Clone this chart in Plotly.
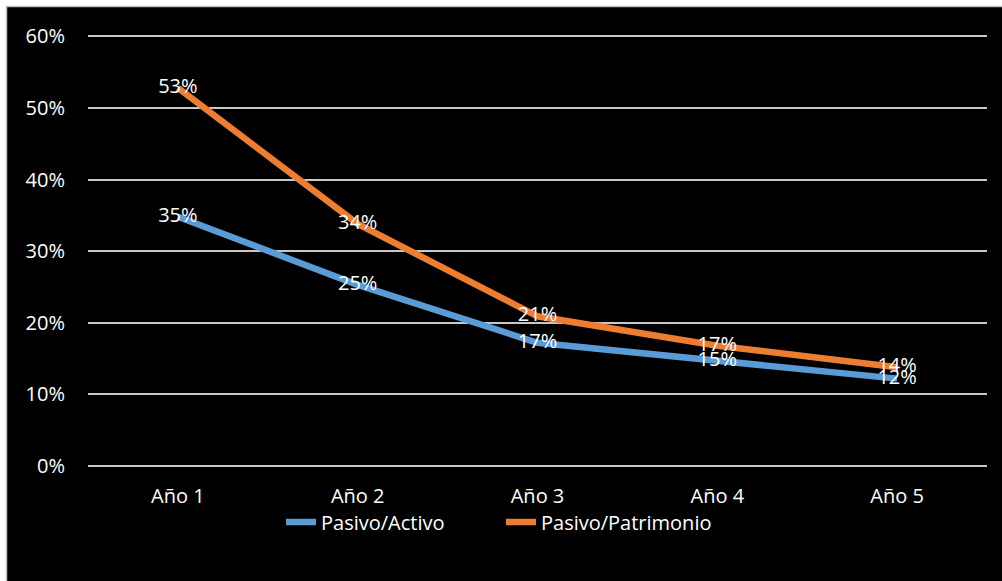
import plotly.graph_objects as go

# categories and series
years = ["Año 1", "Año 2", "Año 3", "Año 4", "Año 5"]
pasivo_activo = [0.348, 0.253, 0.172, 0.147, 0.122]
pasivo_patrimonio = [0.528, 0.338, 0.209, 0.168, 0.138]
y_ticks = [0, 0.1, 0.2, 0.3, 0.4, 0.5, 0.6]

W, H = 1002, 581
L, R, T, B = 88, 15, 22, 115   # top = 36px minus the 0.6..0.62 headroom
FONT = dict(family="Open Sans", size=20, color="white")


def px_x(px):
    return (px - L) / (W - L - R)


def px_y(py):
    return (H - B - py) / (H - T - B)


fig = go.Figure()
for name, vals, color in [
    ("Pasivo/Activo", pasivo_activo, "#5B9BD5"),
    ("Pasivo/Patrimonio", pasivo_patrimonio, "#ED7D31"),
]:
    fig.add_trace(go.Scatter(
        x=years,
        y=vals,
        name=name,
        mode="lines+text",
        line=dict(color=color, width=6.5),
        text=[f"{v:.0%}" for v in vals],
        textposition="middle center",
        textfont=FONT,
        cliponaxis=False,
    ))

# white margin and thin grey frame top / left, like the pasted Excel chart
shapes = [
    dict(type="rect", xref="paper", yref="paper", x0=px_x(0), x1=px_x(W),
         y0=px_y(0), y1=px_y(6), fillcolor="white", line_width=0, layer="below"),
    dict(type="rect", xref="paper", yref="paper", x0=px_x(0), x1=px_x(6),
         y0=px_y(0), y1=px_y(H), fillcolor="white", line_width=0, layer="below"),
    dict(type="line", xref="paper", yref="paper", x0=px_x(6), x1=px_x(W),
         y0=px_y(6.5), y1=px_y(6.5), line=dict(color="#BFBFBF", width=1.5)),
    dict(type="line", xref="paper", yref="paper", x0=px_x(6.5), x1=px_x(6.5),
         y0=px_y(6), y1=px_y(H), line=dict(color="#BFBFBF", width=1.5)),
]

fig.update_layout(
    width=W,
    height=H,
    margin=dict(l=L, r=R, t=T, b=B),
    paper_bgcolor="black",
    plot_bgcolor="black",
    font=FONT,
    shapes=shapes,
    showlegend=True,
    legend=dict(
        orientation="h",
        x=px_x(501),
        xanchor="center",
        y=px_y(522),
        yanchor="middle",
        font=FONT,
        bgcolor="rgba(0,0,0,0)",
        itemwidth=30,
        entrywidth=175,
    ),
    xaxis=dict(
        type="category",
        range=[-0.5, 4.5],
        showgrid=False,
        showline=False,
        zeroline=False,
        ticks="",
        ticklabelstandoff=16,
        tickfont=FONT,
    ),
    yaxis=dict(
        range=[0, 0.62],
        tickvals=y_ticks,
        tickformat=".0%",
        showgrid=True,
        gridcolor="#C8C8C8",
        gridwidth=1.5,
        zeroline=True,
        zerolinecolor="#C8C8C8",
        zerolinewidth=1.5,
        showline=False,
        ticks="",
        ticklabelstandoff=22,
        tickfont=FONT,
    ),
)

# drop the browser's default body margin so the figure fills the window
fig.write_html("out.html", config={"displayModeBar": False},
               post_script="document.body.style.margin='0';")
